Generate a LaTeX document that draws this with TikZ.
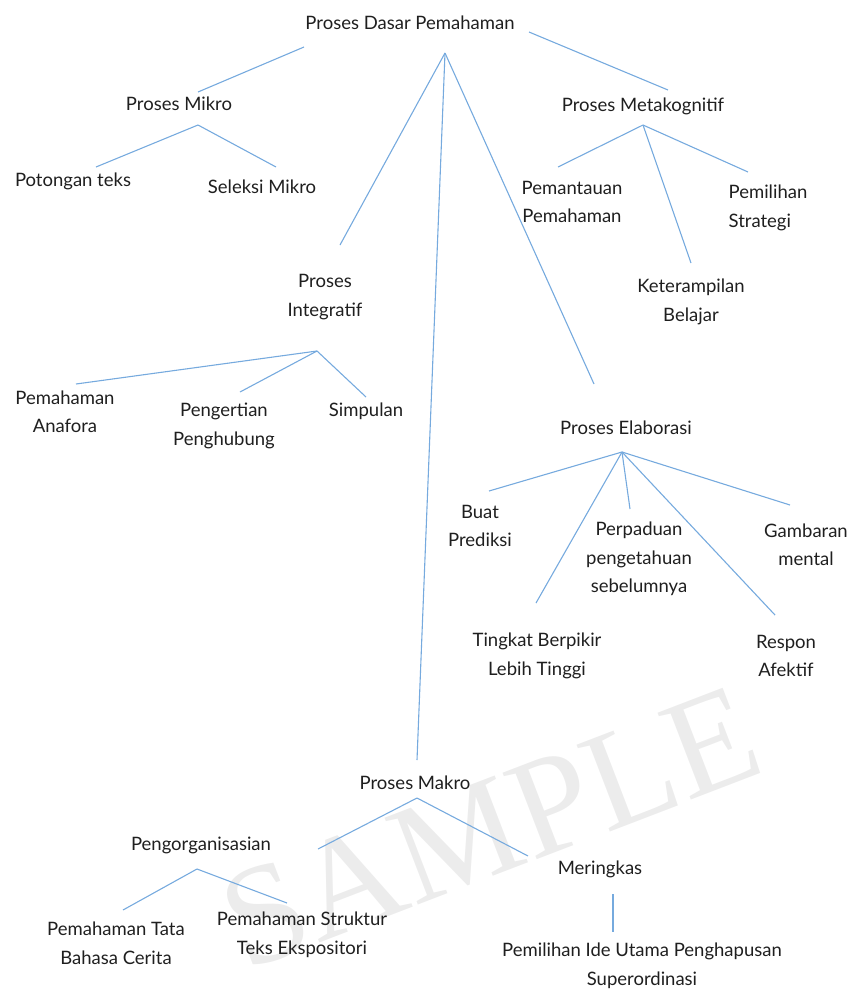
\documentclass[tikz,border=0pt]{standalone}
\usepackage{fontspec}
\setmainfont{Lato}
\newfontfamily\wmfont{Liberation Serif}
\definecolor{linkblue}{RGB}{118,170,222}
\definecolor{wmgray}{RGB}{236,236,236}
\begin{document}
\begin{tikzpicture}[x=1pt,y=-1pt,
  lbl/.style={inner sep=0pt, align=center, font=\fontsize{18.5}{28.5}\selectfont, text=black!88},
  link/.style={draw=linkblue, line width=1.1pt}]
\useasboundingbox (0,0) rectangle (848,989);
% watermark
\node[wmgray, rotate=21, font=\wmfont\fontsize{142}{142}\selectfont, inner sep=0pt] (wm) at (490,828) {SAMPLE};
% text nodes
\node[lbl] (root) at (410,23) {Proses Dasar Pemahaman};
\node[lbl] (mikro) at (179,104) {Proses Mikro};
\node[lbl] (meta) at (643,106) {Proses Metakognitif};
\node[lbl] (potongan) at (73,181) {Potongan teks};
\node[lbl] (seleksi) at (262,187) {Seleksi Mikro};
\node[lbl] (pemantauan) at (572,202) {Pemantauan\\Pemahaman};
\node[lbl, align=left] (pemilihan) at (768,208) {Pemilihan\\Strategi};
\node[lbl] (keterampilan) at (691,302) {Keterampilan\\Belajar};
\node[lbl] (integratif) at (325,297) {Proses\\Integratif};
\node[lbl] (anafora) at (65,412) {Pemahaman\\Anafora};
\node[lbl] (penghubung) at (224,426) {Pengertian\\Penghubung};
\node[lbl] (simpulan) at (366,411) {Simpulan};
\node[lbl] (elaborasi) at (626,428) {Proses Elaborasi};
\node[lbl] (buat) at (480,526) {Buat\\Prediksi};
\node[lbl] (perpaduan) at (639,559) {Perpaduan\\pengetahuan\\sebelumnya};
\node[lbl] (gambaran) at (806,545) {Gambaran\\mental};
\node[lbl] (tingkat) at (537,656) {Tingkat Berpikir\\Lebih Tinggi};
\node[lbl] (respon) at (786,656) {Respon\\Afektif};
\node[lbl] (makro) at (415,783) {Proses Makro};
\node[lbl] (organisasi) at (201,845) {Pengorganisasian};
\node[lbl] (meringkas) at (600,869) {Meringkas};
\node[lbl] (tata) at (116,943) {Pemahaman Tata\\Bahasa Cerita};
\node[lbl] (struktur) at (302,935) {Pemahaman Struktur\\Teks Ekspositori};
\node[lbl] (ide) at (642,966) {Pemilihan Ide Utama Penghapusan\\Superordinasi};
% connector points
\coordinate (rootL) at (304,47);
\coordinate (rootR) at (529,32);
\coordinate (rootH) at (445,53);
\coordinate (mikroT) at (198,92);
\coordinate (metaT) at (668,90);
\coordinate (integT) at (340,245);
\coordinate (makroT) at (417,760);
\coordinate (elabT) at (594,384);
\coordinate (mikroH) at (198,125);
\coordinate (potT) at (96,167);
\coordinate (selT) at (276,167);
\coordinate (metaH) at (643,125);
\coordinate (pemanT) at (558,167);
\coordinate (pemilT) at (748,172);
\coordinate (ketT) at (691,263);
\coordinate (integH) at (317,351);
\coordinate (anaT) at (76,384);
\coordinate (pengT) at (240,392);
\coordinate (simT) at (366,397);
\coordinate (elabH) at (622,452);
\coordinate (buatT) at (489,491);
\coordinate (tingT) at (536,603);
\coordinate (perpT) at (630,509);
\coordinate (gambT) at (790,505);
\coordinate (respT) at (775,615);
\coordinate (makroH) at (417,798);
\coordinate (orgT) at (318,849);
\coordinate (merT) at (528,856);
\coordinate (orgH) at (197,869);
\coordinate (tataT) at (123,910);
\coordinate (strukT) at (287,903);
\coordinate (merH) at (613,894);
\coordinate (ideT) at (613,932);
% connectors
\draw[link] (rootL) -- (mikroT);
\draw[link] (rootR) -- (metaT);
\draw[link] (rootH) -- (integT);
\draw[link] (rootH) -- (makroT);
\draw[link] (rootH) -- (elabT);
\draw[link] (mikroH) -- (potT);
\draw[link] (mikroH) -- (selT);
\draw[link] (metaH) -- (pemanT);
\draw[link] (metaH) -- (pemilT);
\draw[link] (metaH) -- (ketT);
\draw[link] (integH) -- (anaT);
\draw[link] (integH) -- (pengT);
\draw[link] (integH) -- (simT);
\draw[link] (elabH) -- (buatT);
\draw[link] (elabH) -- (tingT);
\draw[link] (elabH) -- (perpT);
\draw[link] (elabH) -- (gambT);
\draw[link] (elabH) -- (respT);
\draw[link] (makroH) -- (orgT);
\draw[link] (makroH) -- (merT);
\draw[link] (orgH) -- (tataT);
\draw[link] (orgH) -- (strukT);
\draw[link] (merH) -- (ideT);
\end{tikzpicture}
\end{document}
